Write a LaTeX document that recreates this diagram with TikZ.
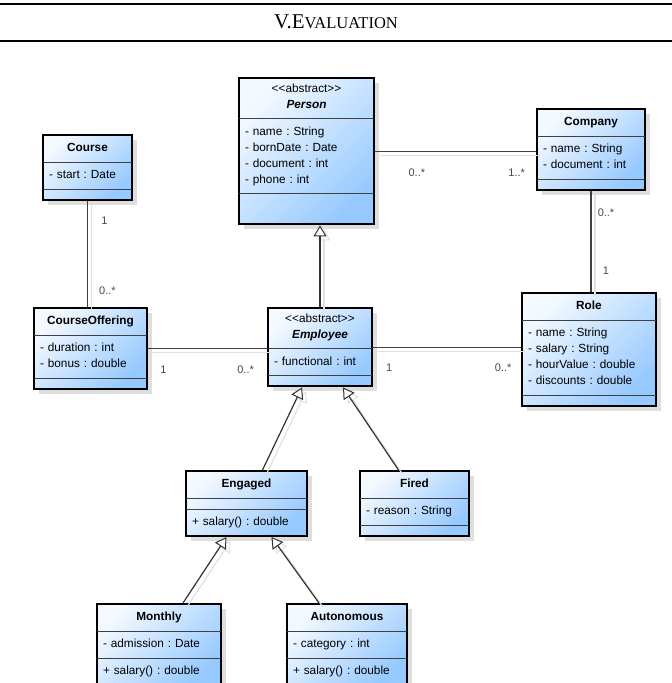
\documentclass[tikz,border=0pt]{standalone}
\usepackage{fontspec}
\setmainfont{Liberation Serif}
\newfontfamily\umlfont{Liberation Sans}
\usetikzlibrary{arrows.meta,shapes.multipart,shadows}
\definecolor{umlLight}{RGB}{244,249,255}
\definecolor{umlBlue}{RGB}{150,201,255}
\definecolor{multGray}{RGB}{70,70,70}
\newcommand{\row}[1]{\strut#1\strut}
\newcommand{\ctr}[1]{\hspace*{\fill}#1\hspace*{\fill}\null}
\tikzset{
  umlclass/.style = {rectangle split, rectangle split parts=3,
    rectangle split draw splits=false, rectangle split empty part height=3pt,
    draw=black, line width=2pt, inner xsep=6pt, inner ysep=4.5pt,
    top color=umlLight, bottom color=umlBlue, shading angle=45,
    drop shadow={shadow xshift=5pt, shadow yshift=-5pt, fill=black!13, opacity=1},
    font=\umlfont\fontsize{11.8}{16}\selectfont\frenchspacing, align=left, anchor=north west},
  splitline/.style = {draw=black!75, line width=1pt, shorten <=1pt, shorten >=1pt},
  lineshadow/.style = {preaction={draw=black!12, line width=1.2pt,
    transform canvas={shift={(4pt,-4pt)}}}},
  assoc/.style = {draw=black!75, line width=1.2pt, lineshadow},
  inherit/.style = {draw=black!80, line width=1.2pt, lineshadow,
    -{Triangle[length=11pt,width=13pt,fill=white,line width=1pt]}},
  mult/.style = {font=\umlfont\fontsize{11}{13}\selectfont, text=multGray, inner sep=0pt},
}
\begin{document}
\begin{tikzpicture}[x=1pt,y=-1pt]
\useasboundingbox (0,0) rectangle (672,683);
% header of the page
\draw[line width=2.5pt] (0,4) -- (672,4);
\draw[line width=2pt] (0,41) -- (672,41);
\node[font=\fontsize{21}{21}\selectfont] (title) at (336,22) {V.E{\fontsize{16.5}{16.5}\selectfont VALUATION}};

% classes
\node[umlclass, text width=123pt] (person) at (238,77)
  {\ctr{<<abstract>>}\\\ctr{\row{\textbf{\textit{Person}}}}
   \nodepart{two}\row{- name : String}\\- bornDate : Date\\- document : int\\\row{- phone : int}
   \nodepart{three}\rule{0pt}{20pt}};
\node[umlclass, text width=96pt] (company) at (536,108)
  {\ctr{\row{\textbf{Company}}}
   \nodepart{two}\row{- name : String}\\\row{- document : int}
   \nodepart{three}};
\node[umlclass, text width=77pt] (course) at (42,134)
  {\ctr{\row{\textbf{Course}}}
   \nodepart{two}\row{- start : Date}
   \nodepart{three}};
\node[umlclass, text width=101pt] (courseoffering) at (33,307)
  {\ctr{\row{\textbf{CourseOffering}}}
   \nodepart{two}\row{- duration : int}\\\row{- bonus : double}
   \nodepart{three}};
\node[umlclass, text width=92pt] (employee) at (267,307)
  {\ctr{<<abstract>>}\\\ctr{\row{\textbf{\textit{Employee}}}}
   \nodepart{two}\row{- functional : int}
   \nodepart{three}};
\node[umlclass, text width=122pt] (role) at (521,292)
  {\ctr{\row{\textbf{Role}}}
   \nodepart{two}\row{- name : String}\\- salary : String\\- hourValue : double\\\row{- discounts : double}
   \nodepart{three}};
\node[umlclass, text width=109pt] (engaged) at (185,470)
  {\ctr{\row{\textbf{Engaged}}}
   \nodepart{two}
   \nodepart{three}\row{+ salary() : double}};
\node[umlclass, text width=97pt] (fired) at (359,470)
  {\ctr{\row{\textbf{Fired}}}
   \nodepart{two}\row{- reason : String}
   \nodepart{three}};
\node[umlclass, text width=112pt] (monthly) at (96,603)
  {\ctr{\row{\textbf{Monthly}}}
   \nodepart{two}\row{- admission : Date}
   \nodepart{three}\row{+ salary() : double}};
\node[umlclass, text width=108pt] (autonomous) at (286,603)
  {\ctr{\row{\textbf{Autonomous}}}
   \nodepart{two}\row{- category : int}
   \nodepart{three}\row{+ salary() : double}};

\foreach \n in {person,company,course,courseoffering,employee,role,engaged,fired,monthly,autonomous}{
  \draw[splitline] (\n.text split west) -- (\n.text split east);
  \draw[splitline] (\n.two split west) -- (\n.two split east);
}

% associations
\draw[assoc] (person.east) -- (person.east -| company.west)
  node[mult, pos=0.26, yshift=-22pt] {0..*}
  node[mult, pos=0.88, yshift=-22pt] {1..*};
\draw[assoc] (company.south) -- (company.south |- role.north)
  node[mult, pos=0.21, xshift=15pt] {0..*}
  node[mult, pos=0.79, xshift=15pt] {1};
\draw[assoc] (course.south) -- (course.south |- courseoffering.north)
  node[mult, pos=0.19, xshift=17pt] {1}
  node[mult, pos=0.85, xshift=20pt] {0..*};
\draw[assoc] (courseoffering.east) -- (courseoffering.east -| employee.west)
  node[mult, pos=0.13, yshift=-21pt] {1}
  node[mult, pos=0.82, yshift=-21pt] {0..*};
\draw[assoc] (employee.east) -- (employee.east -| role.west)
  node[mult, pos=0.11, yshift=-21pt] {1}
  node[mult, pos=0.88, yshift=-21pt] {0..*};

% generalizations
\draw[inherit] (employee.north) -- (employee.north |- person.south);
\draw[inherit] ([xshift=16pt]engaged.north) -- ([xshift=-18pt]employee.south);
\draw[inherit] ([xshift=-16pt]fired.north) -- ([xshift=23pt]employee.south);
\draw[inherit] ([xshift=24pt]monthly.north) -- ([xshift=-20pt]engaged.south);
\draw[inherit] ([xshift=-28pt]autonomous.north) -- ([xshift=25pt]engaged.south);
\end{tikzpicture}
\end{document}
